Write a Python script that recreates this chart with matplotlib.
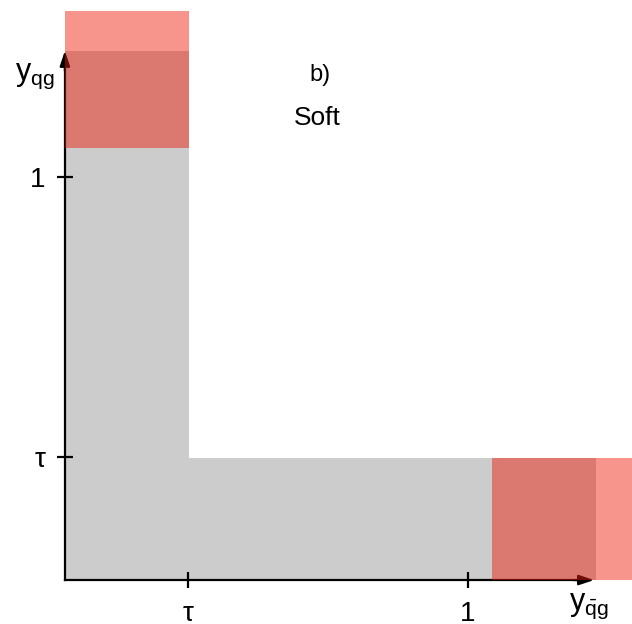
"""
Phase space sketch b) Soft: soft region (grey L shape) with the cut-off regions in red.
"""

import matplotlib.pyplot as plt
from matplotlib.patches import Rectangle

plt.rcParams['font.family'] = ['Liberation Sans', 'DejaVu Sans']
plt.rcParams['mathtext.fontset'] = 'custom'
plt.rcParams['mathtext.rm'] = 'Liberation Sans'
plt.rcParams['mathtext.it'] = 'Liberation Sans'

# Configurations (axis units: y = 1 at the "1" tick)
TAU = 0.305
ONE = 1.0
AXIS_END = 1.313
TICK_POS = [TAU, ONE]
TICK_LABELS = ["τ", "1"]

# grey soft region: two strips (x0, y0, width, height)
SOFT_STRIPS = [(0.0, 0.0, 0.308, AXIS_END),
               (0.0, 0.0, AXIS_END + 0.005, 0.303)]
# red regions drawn on top
RED_BOXES = [(0.0, 1.072, 0.308, 0.34),
             (1.06, 0.0, 0.36, 0.303)]

GREY = "#cccccc"
RED = "#ee1c0a"

fig = plt.figure(figsize=(6.32, 6.24), dpi=100)
ax = fig.add_axes([0, 0, 1, 1])
ax.set_xlim(-0.161, 1.407)
ax.set_ylim(-0.109, 1.439)

for x0, y0, w, h in SOFT_STRIPS:
    ax.add_patch(Rectangle((x0, y0), w, h, facecolor=GREY, edgecolor="none", zorder=1))

# axes with arrows
for side in ["top", "right"]:
    ax.spines[side].set_visible(False)
ax.spines['left'].set_position(('data', 0))
ax.spines['bottom'].set_position(('data', 0))
ax.spines['left'].set_bounds(0, AXIS_END - 0.02)
ax.spines['bottom'].set_bounds(0, AXIS_END - 0.02)
for side in ["left", "bottom"]:
    ax.spines[side].set_linewidth(1.6)
    ax.spines[side].set_zorder(2)
ax.annotate("", xy=(AXIS_END, 0), xytext=(AXIS_END - 0.05, 0),
            arrowprops=dict(arrowstyle="-|>,head_length=0.9,head_width=0.3", color="black", lw=1.6,
                            shrinkA=0, shrinkB=0), zorder=2)
ax.annotate("", xy=(0, AXIS_END), xytext=(0, AXIS_END - 0.05),
            arrowprops=dict(arrowstyle="-|>,head_length=0.9,head_width=0.3", color="black", lw=1.6,
                            shrinkA=0, shrinkB=0), zorder=2)

ax.set_xticks(TICK_POS)
ax.set_xticklabels(TICK_LABELS, fontsize=20)
ax.set_yticks(TICK_POS)
ax.set_yticklabels(TICK_LABELS, fontsize=20)
ax.tick_params(direction="inout", length=12, width=1.6)
ax.tick_params(axis="x", pad=9)
ax.tick_params(axis="y", pad=8)

for x0, y0, w, h in RED_BOXES:
    ax.add_patch(Rectangle((x0, y0), w, h, facecolor=RED, edgecolor="none", alpha=0.47,
                           zorder=3, clip_on=False))

# labels
ax.text(-0.075, 1.25, r"$\mathrm{y}_{\mathrm{qg}}$", fontsize=22, ha="center", va="center")
ax.text(1.30, -0.065, r"$\mathrm{y}_{\bar{\mathrm{q}}\mathrm{g}}$", fontsize=22, ha="center", va="center")
ax.text(0.634, 1.253, "b)", fontsize=17, ha="center", va="center")
ax.text(0.626, 1.146, "Soft", fontsize=19, ha="center", va="center")

fig.savefig("out.png", dpi=100)
